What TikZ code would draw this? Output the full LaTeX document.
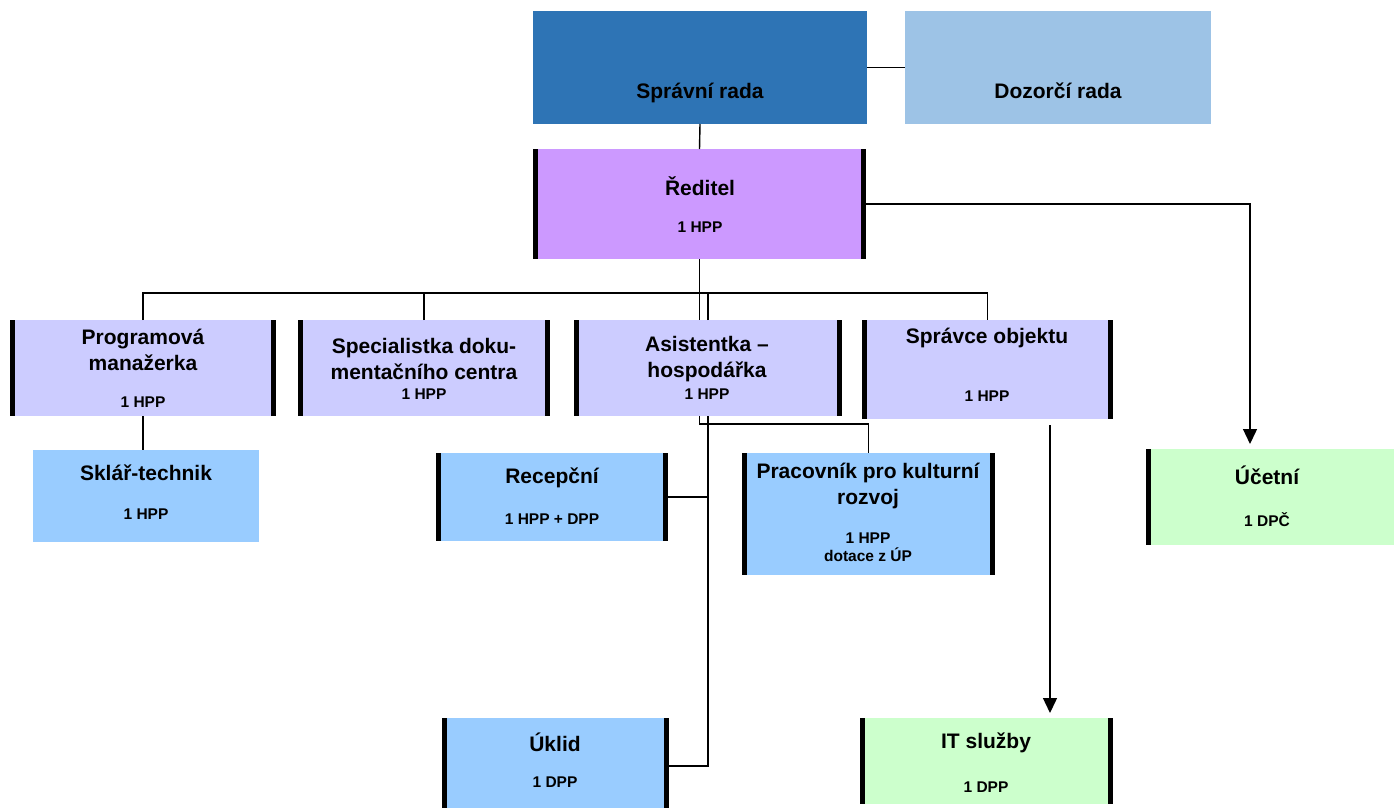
\documentclass[tikz,border=0pt]{standalone}
\usepackage{fontspec}
\setmainfont{Liberation Sans}
\usepackage{tikz}
\usetikzlibrary{positioning}
\usetikzlibrary{arrows.meta}

\definecolor{boardblue}{HTML}{2E74B5}
\definecolor{superblue}{HTML}{9DC3E6}
\definecolor{headviolet}{HTML}{CC99FF}
\definecolor{staffviolet}{HTML}{CCCCFF}
\definecolor{crewblue}{HTML}{99CCFF}
\definecolor{extgreen}{HTML}{CCFFCC}

\newcommand{\sidebars}[1]{\draw[bar] ([xshift=2.5pt]#1.north west) -- ([xshift=2.5pt]#1.south west) ([xshift=-2.5pt]#1.north east) -- ([xshift=-2.5pt]#1.south east);}

\begin{document}
\begin{tikzpicture}[x=1pt,y=-1pt,
    unit/.style={rectangle,inner sep=0pt,outer sep=0pt,draw=none},
    bar/.style={line width=5pt},
    wire/.style={line width=1.4pt},
    arrow/.style={wire,-{Triangle[width=14pt,length=15pt]},shorten >=5pt},
    title/.style={font=\fontsize{21}{26}\selectfont\bfseries,align=center,inner sep=0pt},
    note/.style={font=\fontsize{15.5}{18}\selectfont\bfseries,align=center,inner sep=0pt}]
    \fill[white] (0,0) rectangle (1394,808);
    \useasboundingbox (0,0) rectangle (1394,808);

    % top: boards and director
    \node[unit,fill=boardblue,minimum width=334pt,minimum height=113pt] (spravni) at (700,67.5) {};
    \node[unit,fill=superblue,minimum width=306pt,minimum height=113pt] (dozorci) at (1058,67.5) {};
    \node[unit,fill=headviolet,minimum width=333pt,minimum height=110pt] (reditel) at (699.5,204) {};

    % second row
    \node[unit,fill=staffviolet,minimum width=266pt,minimum height=96pt] (progr) at (143,368) {};
    \node[unit,fill=staffviolet,minimum width=252pt,minimum height=96pt] (special) at (424,368) {};
    \node[unit,fill=staffviolet,minimum width=268pt,minimum height=96pt] (asist) at (708,368) {};
    \node[unit,fill=staffviolet,minimum width=251pt,minimum height=99pt] (spravce) at (987.5,369.5) {};

    % third row
    \node[unit,fill=crewblue,minimum width=226pt,minimum height=92pt] (sklar) at (146,496) {};
    \node[unit,fill=crewblue,minimum width=232pt,minimum height=88pt] (recepce) at (552,497) {};
    \node[unit,fill=crewblue,minimum width=253pt,minimum height=122pt] (prac) at (868.5,514) {};
    \node[unit,fill=extgreen,minimum width=290pt,minimum height=96pt] (ucetni) at (1291,497) {};

    % bottom row
    \node[unit,fill=crewblue,minimum width=227pt,minimum height=96pt] (uklid) at (555.5,766) {};
    \node[unit,fill=extgreen,minimum width=253pt,minimum height=86pt] (it) at (986.5,761) {};

    % texts
    \node[title] (spravni-t) at (700,92.5) {Správní rada};
    \node[title] (dozorci-t) at (1058,91) {Dozorčí rada};
    \node[title] (reditel-t) at (700,186) {Ředitel};
    \node[note] (reditel-n) at (700,227) {1 HPP};
    \node[title] (progr-t) at (143,350) {Programová\\manažerka};
    \node[note] (progr-n) at (143,402) {1 HPP};
    \node[title] (special-t) at (424,359) {Specialistka doku-\\mentačního centra};
    \node[note] (special-n) at (424,394) {1 HPP};
    \node[title] (asist-t) at (707,359) {Asistentka --\\hospodářka};
    \node[note] (asist-n) at (707,394) {1 HPP};
    \node[title] (spravce-t) at (987,338) {Správce objektu};
    \node[note] (spravce-n) at (987,396) {1 HPP};
    \node[title] (sklar-t) at (146,473) {Sklář-technik};
    \node[note] (sklar-n) at (146,514) {1 HPP};
    \node[title] (recepce-t) at (552,478) {Recepční};
    \node[note] (recepce-n) at (552,519) {1 HPP + DPP};
    \node[title] (prac-t) at (868,486) {Pracovník pro kulturní\\rozvoj};
    \node[note] (prac-n) at (868,547) {1 HPP\\dotace z ÚP};
    \node[title] (ucetni-t) at (1267,475) {Účetní};
    \node[note] (ucetni-n) at (1267,520) {1 DPČ};
    \node[title] (uklid-t) at (555,742) {Úklid};
    \node[note] (uklid-n) at (555,782) {1 DPP};
    \node[title] (it-t) at (986,743) {IT služby};
    \node[note] (it-n) at (986,787) {1 DPP};

    % connectors
    \coordinate (bus) at (0,293);
    \coordinate (ucetni-in) at (1250,449);
    \coordinate (it-in) at (1050,718);
    \draw[wire] (spravni.east) -- (dozorci.west);
    \draw[wire] (spravni.south) -- (reditel.north);
    \draw[arrow] (reditel.east) -| (ucetni-in);
    \draw[wire] (reditel.south) -- (reditel.south |- asist.north);
    \draw[wire] (progr.north) |- (spravce.north |- bus) -- (spravce.north);
    \draw[wire] (special.north) -- (special.north |- bus);
    \draw[wire] (asist.north) -- (asist.north |- bus);
    \draw[wire] (progr.south) -- (progr.south |- sklar.north);
    \draw[wire] (reditel.south |- asist.south) -- ++(0,8) -| (prac.north);
    \draw[wire] (asist.south) |- (uklid.east);
    \draw[wire] (recepce.east) -- (recepce.east -| asist.south);
    \draw[arrow,shorten <=6pt] (spravce.south -| it-in) -- (it-in);

    % side bars
    \sidebars{reditel}
    \sidebars{progr}
    \sidebars{special}
    \sidebars{asist}
    \sidebars{spravce}
    \sidebars{recepce}
    \sidebars{prac}
    \sidebars{ucetni}
    \sidebars{uklid}
    \sidebars{it}
\end{tikzpicture}
\end{document}
